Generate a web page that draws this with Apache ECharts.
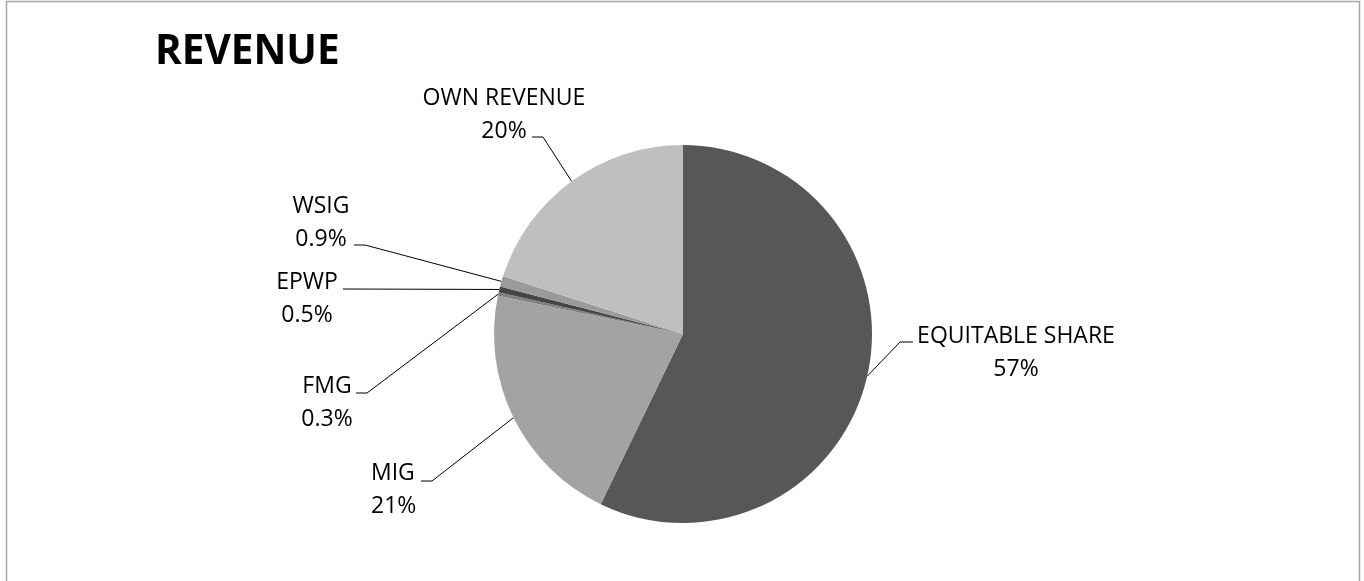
<!DOCTYPE html>
<html>
<head>
<meta charset="utf-8">
<title>Revenue</title>
<script src="https://cdn.jsdelivr.net/npm/echarts@6/dist/echarts.min.js"></script>
<style>
  html, body { margin: 0; padding: 0; background: #ffffff; }
  #chart { width: 1364px; height: 581px; }
</style>
</head>
<body>
<div id="chart"></div>
<script>
// Revenue sources, clockwise from 12 o'clock, shares in percent
const categories = ['EQUITABLE SHARE', 'MIG', 'FMG', 'EPWP', 'WSIG', 'OWN REVENUE'];
const shares = [57, 21, 0.3, 0.5, 0.9, 20];
const sliceColors = ['#575757', '#a3a3a3', '#808080', '#454545', '#9a9a9a', '#bfbfbf'];

// Where each callout sits: text anchor, leader elbow and leader end (px)
const callouts = [
  { x: 1016, y: 353, align: 'center', elbow: [900, 342], end: [913, 342] },
  { x: 371,  y: 490, align: 'left',   elbow: [432, 481], end: [421, 481] },
  { x: 327,  y: 403, align: 'center', elbow: [367, 393], end: [356, 393] },
  { x: 307,  y: 299, align: 'center', elbow: null,       end: [343, 289] },
  { x: 321,  y: 223, align: 'center', elbow: [365, 245], end: [354, 245] },
  { x: 504,  y: 115, align: 'center', elbow: [543, 137], end: [532, 137] }
];

const chart = echarts.init(document.getElementById('chart'), null, { renderer: 'canvas' });

const option = {
  animation: false,
  backgroundColor: '#ffffff',
  title: {
    text: 'REVENUE',
    left: 150,
    top: 27,
    textStyle: {
      fontFamily: 'Open Sans',
      fontWeight: 'bold',
      fontSize: 40.5,
      color: '#000000'
    }
  },
  graphic: [{
    type: 'rect',
    shape: { x: 6.5, y: 1.5, width: 1353, height: 700 },
    style: { fill: 'none', stroke: '#a6a6a6', lineWidth: 1.5 },
    silent: true
  }],
  series: [{
    type: 'pie',
    center: [683, 334],
    radius: 189,
    startAngle: 90,
    clockwise: true,
    avoidLabelOverlap: false,
    itemStyle: { borderWidth: 0 },
    label: {
      show: true,
      position: 'outside',
      formatter: p => p.name + '\n' + p.value + '%',
      fontFamily: 'Open Sans',
      fontSize: 23,
      lineHeight: 33,
      color: '#000000'
    },
    labelLine: {
      show: true,
      length: 20,
      length2: 10,
      smooth: false,
      lineStyle: { color: '#000000', width: 1 }
    },
    labelLayout: function (params) {
      const c = callouts[params.dataIndex];
      const start = params.labelLinePoints[0];
      const pts = c.elbow ? [start, c.elbow, c.end] : [start, c.end];
      return {
        x: c.x,
        y: c.y,
        align: c.align,
        verticalAlign: 'middle',
        labelLinePoints: pts
      };
    },
    emphasis: { disabled: true },
    data: categories.map((name, i) => ({
      name: name,
      value: shares[i],
      itemStyle: { color: sliceColors[i] }
    }))
  }]
};

chart.setOption(option);
</script>
</body>
</html>
